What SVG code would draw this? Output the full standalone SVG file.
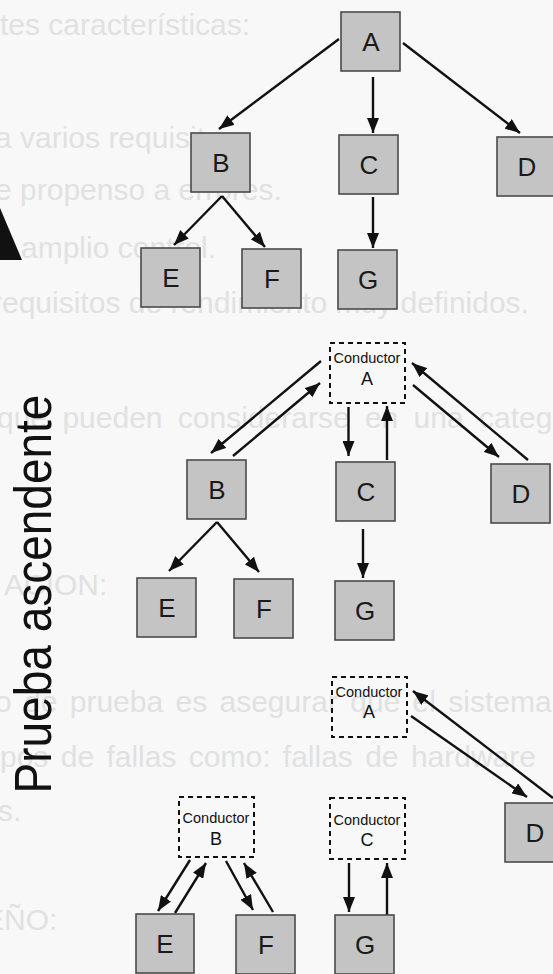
<svg xmlns="http://www.w3.org/2000/svg" width="553" height="974" viewBox="0 0 553 974">
<defs>
<marker id="ah" viewBox="0 0 15 12" refX="15" refY="6" markerWidth="15" markerHeight="12" markerUnits="userSpaceOnUse" orient="auto">
<path d="M0,0 L15,6 L0,12 z" fill="#111"/>
</marker>
</defs>
<style>
.bg{font-family:"Liberation Sans",Arial,sans-serif;font-size:30px;fill:#e1e1e1}
.box{fill:#c4c4c4;stroke:#4a4a4a;stroke-width:1.6}
.drv{fill:none;stroke:#111;stroke-width:2;stroke-dasharray:5 4}
.lbl{font-family:"Liberation Sans",Arial,sans-serif;font-size:26px;fill:#1a1a1a;text-anchor:middle}
.cnd{font-family:"Liberation Sans",Arial,sans-serif;font-size:14.5px;fill:#111;text-anchor:middle}
.cl{font-family:"Liberation Sans",Arial,sans-serif;font-size:18px;fill:#111;text-anchor:middle}
.ar{fill:none;stroke:#111;stroke-width:2.4;marker-end:url(#ah)}
</style>
<rect width="553" height="974" fill="#f8f8f8"/>
<g id="background-text">
<text class="bg" x="0" y="35">tes características:</text>
<text class="bg" x="-5" y="148">a varios requisitos.</text>
<text class="bg" x="-5" y="200">e propenso a errores.</text>
<text class="bg" x="21" y="258">amplio control.</text>
<text class="bg" x="-8" y="313">requisitos de rendimiento muy definidos.</text>
<text class="bg" x="-3" y="428" word-spacing="7">que pueden considerarse en una categoría</text>
<text class="bg" x="4" y="595">ACION:</text>
<text class="bg" x="-5" y="712" word-spacing="4">o de prueba es asegurar que el sistema</text>
<text class="bg" x="0" y="767" word-spacing="4">pos de fallas como: fallas de hardware</text>
<text class="bg" x="-2" y="821">s.</text>
<text class="bg" x="-16" y="930">EÑO:</text>
</g>
<polygon points="0,208 22,260 0,260" fill="#111"/>
<text transform="translate(51,594) rotate(-90) scale(1,1.12)" font-family="'Liberation Sans',Arial,sans-serif" font-size="46" fill="#111" text-anchor="middle">Prueba ascendente</text>
<g id="connectors">
<line class="ar" x1="339" y1="39" x2="219" y2="129"/>
<line class="ar" x1="373" y1="77" x2="373" y2="133"/>
<line class="ar" x1="403" y1="43" x2="520" y2="133"/>
<line class="ar" x1="222" y1="196" x2="174" y2="245"/>
<line class="ar" x1="222" y1="196" x2="265" y2="247"/>
<line class="ar" x1="373" y1="197" x2="373" y2="248"/>
<line class="ar" x1="321" y1="361" x2="211" y2="453"/>
<line class="ar" x1="233" y1="456" x2="320" y2="383"/>
<line class="ar" x1="348.5" y1="407" x2="348.5" y2="456"/>
<line class="ar" x1="387" y1="460" x2="387" y2="406"/>
<line class="ar" x1="413" y1="385" x2="499" y2="457"/>
<line class="ar" x1="528" y1="460" x2="412" y2="363"/>
<line class="ar" x1="217" y1="522" x2="169" y2="571"/>
<line class="ar" x1="217" y1="522" x2="259" y2="572"/>
<line class="ar" x1="363" y1="529" x2="363" y2="578"/>
<line class="ar" x1="553" y1="798" x2="413" y2="691"/>
<line class="ar" x1="411" y1="716" x2="527" y2="797"/>
<line class="ar" x1="190" y1="860" x2="158" y2="911"/>
<line class="ar" x1="175" y1="913" x2="206" y2="863"/>
<line class="ar" x1="226" y1="861" x2="253" y2="910"/>
<line class="ar" x1="273" y1="912" x2="244" y2="863"/>
<line class="ar" x1="349" y1="863" x2="349" y2="912"/>
<line class="ar" x1="387" y1="915" x2="387" y2="863"/>
</g>
<g id="t1-A"><rect class="box" x="341" y="12" width="59" height="59"/><text class="lbl" x="371" y="51">A</text></g>
<g id="t1-B"><rect class="box" x="191" y="133" width="59" height="59"/><text class="lbl" x="221" y="172">B</text></g>
<g id="t1-C"><rect class="box" x="339" y="135" width="59" height="59"/><text class="lbl" x="369" y="174">C</text></g>
<g id="t1-D"><rect class="box" x="497" y="137" width="59" height="59"/><text class="lbl" x="527" y="176">D</text></g>
<g id="t1-E"><rect class="box" x="141" y="248" width="59" height="59"/><text class="lbl" x="171" y="287">E</text></g>
<g id="t1-F"><rect class="box" x="242" y="249" width="59" height="59"/><text class="lbl" x="272" y="288">F</text></g>
<g id="t1-G"><rect class="box" x="338" y="250" width="59" height="59"/><text class="lbl" x="368" y="289">G</text></g>
<g id="t2-A"><rect class="drv" x="330" y="343" width="75" height="60"/><text class="cnd" x="367" y="363">Conductor</text><text class="cl" x="367" y="385">A</text></g>
<g id="t2-B"><rect class="box" x="187" y="460" width="59" height="59"/><text class="lbl" x="217" y="499">B</text></g>
<g id="t2-C"><rect class="box" x="336" y="462" width="59" height="59"/><text class="lbl" x="366" y="501">C</text></g>
<g id="t2-D"><rect class="box" x="491" y="464" width="59" height="59"/><text class="lbl" x="521" y="503">D</text></g>
<g id="t2-E"><rect class="box" x="137" y="578" width="59" height="59"/><text class="lbl" x="167" y="617">E</text></g>
<g id="t2-F"><rect class="box" x="234" y="579" width="59" height="59"/><text class="lbl" x="264" y="618">F</text></g>
<g id="t2-G"><rect class="box" x="335" y="581" width="59" height="59"/><text class="lbl" x="365" y="620">G</text></g>
<g id="t3-A"><rect class="drv" x="332" y="677" width="75" height="60"/><text class="cnd" x="369" y="697">Conductor</text><text class="cl" x="369" y="718">A</text></g>
<g id="t3-D"><rect class="box" x="505" y="803" width="59" height="59"/><text class="lbl" x="535" y="842">D</text></g>
<g id="t3-B"><rect class="drv" x="179" y="797" width="75" height="60"/><text class="cnd" x="216" y="823">Conductor</text><text class="cl" x="216" y="845">B</text></g>
<g id="t3-C"><rect class="drv" x="330" y="798" width="75" height="61"/><text class="cnd" x="367" y="825">Conductor</text><text class="cl" x="367" y="846">C</text></g>
<g id="t3-E"><rect class="box" x="136" y="914" width="58" height="59"/><text class="lbl" x="165" y="953">E</text></g>
<g id="t3-F"><rect class="box" x="236" y="915" width="59" height="59"/><text class="lbl" x="266" y="954">F</text></g>
<g id="t3-G"><rect class="box" x="335" y="915" width="59" height="59"/><text class="lbl" x="365" y="954">G</text></g>
</svg>
